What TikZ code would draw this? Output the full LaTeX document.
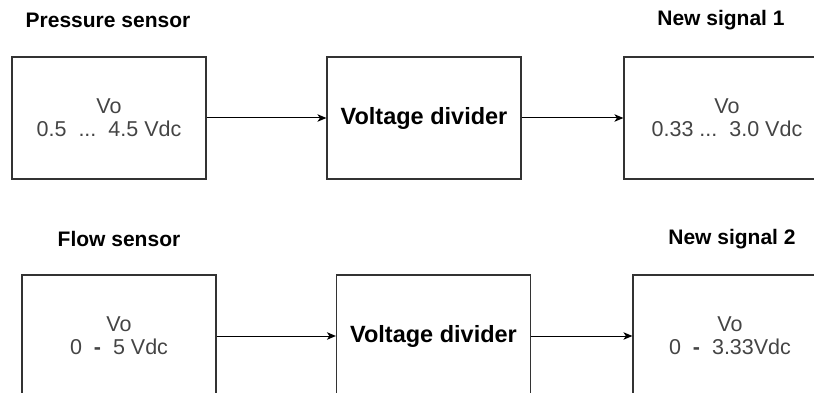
\documentclass[tikz,border=0pt]{standalone}
\usepackage{fontspec}
\setmainfont{Liberation Sans}
\usetikzlibrary{arrows.meta}
\definecolor{boxline}{HTML}{333333}
\definecolor{valtext}{HTML}{444444}
\begin{document}
\begin{tikzpicture}[x=1pt,y=-1pt,
  blk/.style={draw=boxline, line width=1.2pt, minimum width=194pt, minimum height=122pt, inner sep=0pt, align=center},
  valbox/.style={blk, text=valtext, font=\fontsize{21.5}{24}\selectfont},
  divbox/.style={blk, text=black, font=\bfseries\fontsize{23.5}{26}\selectfont},
  title/.style={font=\bfseries\fontsize{21}{24}\selectfont, text=black, inner sep=0pt},
  arr/.style={draw=black, line width=1pt, -{Stealth[length=9pt,width=7.5pt,inset=2.5pt]}}]
\useasboundingbox (0,0) rectangle (814,393);
% top row
\node[title] (t1) at (108,20) {Pressure sensor};
\node[title] (t2) at (721,20) {New signal 1};
\node[valbox] (p1) at (109,118) {Vo\\[-1pt]0.5\ \ ...\ \ 4.5 Vdc};
\node[divbox] (d1) at (424,118) {Voltage divider};
\node[valbox] (n1) at (721,118) {\ \ Vo\\[-1pt]\ \ 0.33 ...\ \ 3.0 Vdc};
\draw[arr] (p1) -- (d1);
\draw[arr] (d1) -- (n1);
% bottom row
\node[title] (t3) at (119,239) {Flow sensor};
\node[title] (t4) at (732,239) {New signal 2};
\node[valbox] (p2) at (119,336) {Vo\\[-1pt]0\ \ \textbf{-}\ \ 5 Vdc};
\node[divbox] (d2) at (433.5,336) {Voltage divider};
\node[valbox] (n2) at (730,336) {Vo\\[-1pt]0\ \ \textbf{-}\ \ 3.33Vdc};
\draw[arr] (p2) -- (d2);
\draw[arr] (d2) -- (n2);
\end{tikzpicture}
\end{document}
